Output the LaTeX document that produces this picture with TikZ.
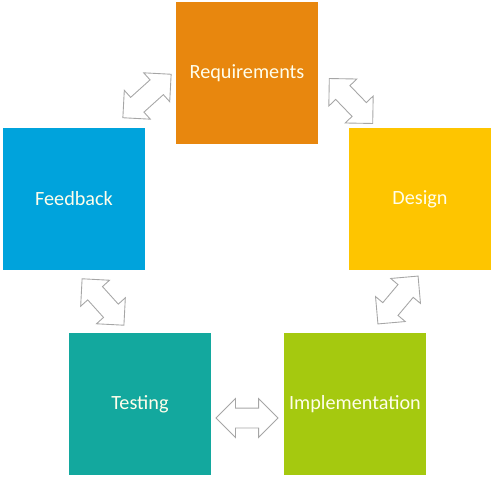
\documentclass[tikz,border=0pt]{standalone}
\usepackage{fontspec}
\setmainfont{Carlito}
\usetikzlibrary{shapes.arrows, positioning}
\definecolor{reqorange}{HTML}{E8870E}
\definecolor{desgold}{HTML}{FEC500}
\definecolor{fbblue}{HTML}{00A3DC}
\definecolor{testteal}{HTML}{13A89E}
\definecolor{implgreen}{HTML}{A5C90F}
\definecolor{arrowgray}{HTML}{A6A6A6}

\begin{document}
\begin{tikzpicture}[
    x=0.02cm, y=-0.02cm,
    phase/.style={fill=#1, minimum width=2.84cm, minimum height=2.84cm, inner sep=0pt, text=white!92!yellow, font=\fontsize{11.5}{13}\selectfont},
    swap/.style={draw=arrowgray, fill=white, line width=0.5pt, double arrow, double arrow head extend=0.19cm, double arrow tip angle=90, minimum height=#1, inner xsep=0pt, inner ysep=0.19cm},
]
    \useasboundingbox (0,0) rectangle (500,483);

    % Phases of the cycle
    \node[phase=reqorange] (req) at (247,73) {Requirements};
    \node[phase=desgold] (des) at (420,199) {Design};
    \node[phase=fbblue] (fb) at (74,199) {Feedback};
    \node[phase=testteal] (test) at (140,404) {Testing};
    \node[phase=implgreen] (impl) at (355,404) {Implementation};

    % Exchange arrows between neighbours
    \node[swap=1.3cm, rotate=42] (fbreq) at (147,96) {};
    \node[swap=1.25cm, rotate=-46] (reqdes) at (351,101) {};
    \node[swap=1.25cm, rotate=-48] (fbtest) at (103,302) {};
    \node[swap=1.25cm, rotate=50] (desimpl) at (398,300) {};
    \node[swap=1.24cm] (testimpl) at (247,418) {};
\end{tikzpicture}
\end{document}
